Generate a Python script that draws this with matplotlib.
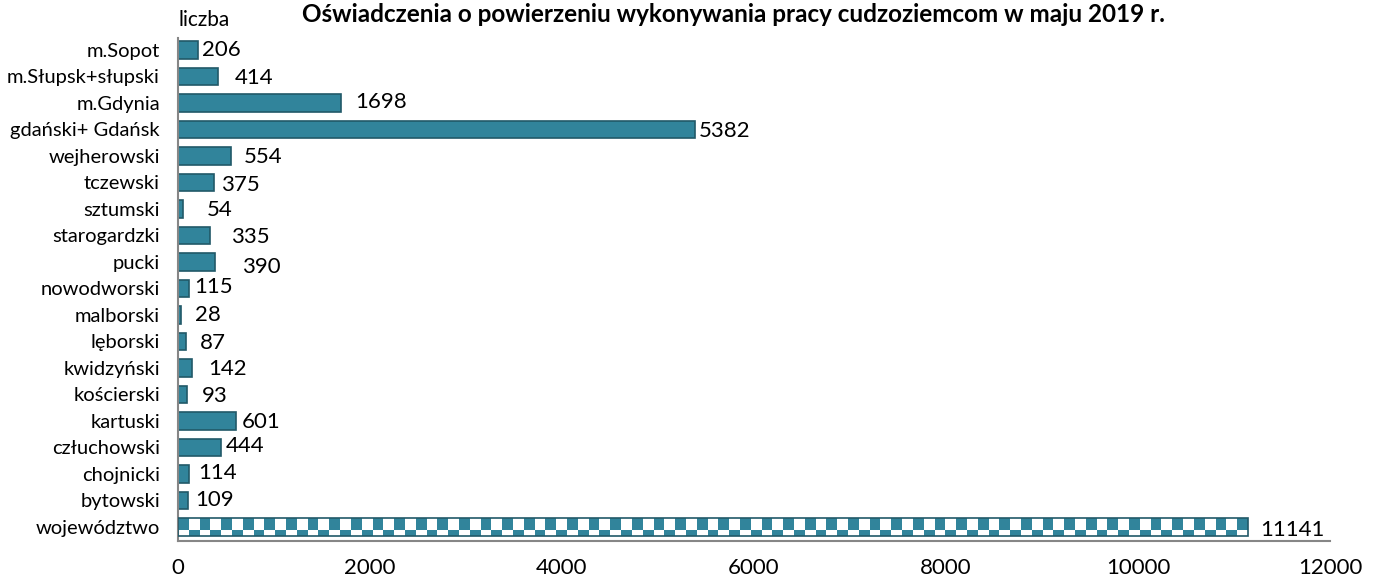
import matplotlib.pyplot as plt
import numpy as np
from matplotlib.colors import ListedColormap

plt.rcParams['font.family'] = ['Lato', 'DejaVu Sans']

categories = ['m.Sopot', 'm.Słupsk+słupski', 'm.Gdynia', 'gdański+ Gdańsk', 'wejherowski',
              'tczewski', 'sztumski', 'starogardzki', 'pucki', 'nowodworski', 'malborski',
              'lęborski', 'kwidzyński', 'kościerski', 'kartuski', 'człuchowski', 'chojnicki',
              'bytowski', 'województwo']
values = [206, 414, 1698, 5382, 554, 375, 54, 335, 390, 115, 28, 87, 142, 93, 601, 444, 114, 109, 11141]
xticks = [0, 2000, 4000, 6000, 8000, 10000, 12000]
title = 'Oświadczenia o powierzeniu wykonywania pracy cudzoziemcom w maju 2019 r.'

# label nudges in points (dx, dy), like the hand-dragged labels in the source
label_nudge = [(1, 0), (10, -1), (8, 1), (1, -1), (7, -1), (3, -2), (15, -1), (13, -1),
               (17, -4), (2, 1), (8, 0), (8, -1), (10, -1), (9, -1), (2, -1), (2, 1),
               (5, 1), (3, 0), (7, -2)]

teal = '#31849b'
edge = '#215968'

fig = plt.figure(figsize=(13.75, 5.83), dpi=100)
ax = fig.add_axes([178 / 1375, 42 / 583, 1152 / 1375, 503 / 583])

y = np.arange(len(categories))
bars = ax.barh(y[:-1], values[:-1], height=0.65, color=teal, edgecolor=edge, linewidth=1.2)

# total row: checkerboard fill clipped to the bar outline
tot = ax.barh(y[-1:], values[-1:], height=0.65, facecolor='none', edgecolor=edge, linewidth=1.2, zorder=3)[0]
ncell = int(round(values[-1] / 112))
row_a = np.arange(ncell) % 2 == 0
pattern = np.vstack([row_a, row_a, ~row_a]).astype(float)
im = ax.imshow(pattern, cmap=ListedColormap(['white', teal]), aspect='auto', interpolation='nearest',
               extent=(0, values[-1], y[-1] + 0.325, y[-1] - 0.325), zorder=2)
im.set_clip_path(tot)

for i, v in enumerate(values):
    dx, dy = label_nudge[i]
    ax.annotate(str(v), (v, y[i]), xytext=(2 + dx, dy), textcoords='offset points',
                ha='left', va='center', fontsize=16)

ax.set_xlim(0, 12000)
ax.set_ylim(len(categories) - 1 + 0.53, -0.45)
ax.set_xticks(xticks)
ax.set_xticklabels([str(t) for t in xticks], fontsize=16)
ax.set_yticks(y)
ax.set_yticklabels(categories, fontsize=14.5)
ax.tick_params(axis='x', length=0, pad=12)
ax.tick_params(axis='y', length=0, pad=13)
for s in ['top', 'right']:
    ax.spines[s].set_visible(False)
for s in ['left', 'bottom']:
    ax.spines[s].set_color('#868686')
    ax.spines[s].set_linewidth(1.5)

fig.text(178 / 1375, 1 - 20 / 583, 'liczba', fontsize=15, ha='left', va='center')
fig.text(733 / 1375, 1 - 14 / 583, title, fontsize=17.5, fontweight='bold', ha='center', va='center')

fig.savefig('out.png', dpi=100)
